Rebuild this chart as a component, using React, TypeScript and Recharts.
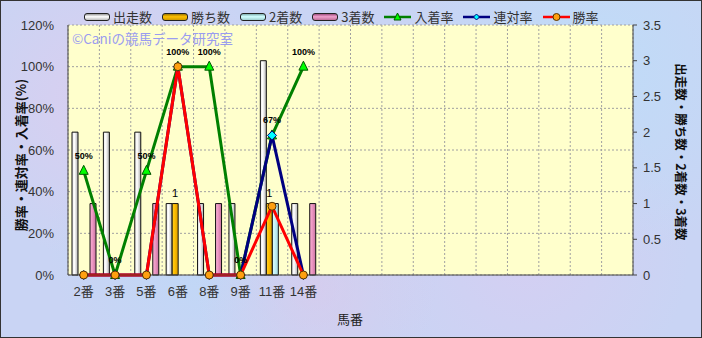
import React from "react";
import {
  ComposedChart,
  Bar,
  Line,
  XAxis,
  YAxis,
  CartesianGrid,
  LabelList,
} from "recharts";

const horses = ["2番", "3番", "5番", "6番", "8番", "9番", "11番", "14番"];
const starts = [2, 2, 2, 1, 1, 1, 3, 1];
const wins = [0, 0, 0, 1, 0, 0, 1, 0];
const seconds = [0, 0, 0, 0, 0, 0, 1, 0];
const thirds = [1, 0, 1, 0, 1, 0, 0, 1];
const placeRate = [50, 0, 50, 100, 100, 0, 67, 100];
const rentaiRate = [0, 0, 0, 100, 0, 0, 67, 0];
const winRate = [0, 0, 0, 100, 0, 0, 33, 0];
const emptySlots = 10;
const leftTicks = [0, 20, 40, 60, 80, 100, 120];
const rightTicks = [0, 0.5, 1, 1.5, 2, 2.5, 3, 3.5];

const data = [
  ...horses.map((horse, i) => ({
    horse,
    starts: starts[i],
    wins: wins[i],
    seconds: seconds[i],
    thirds: thirds[i],
    place: placeRate[i],
    rentai: rentaiRate[i],
    win: winRate[i],
  })),
  ...Array.from({ length: emptySlots }, (_, i) => ({ horse: " ".repeat(i + 1) })),
];

const FONT = '"Liberation Sans", "Noto Sans CJK JP", sans-serif';
const JP = '"Noto Sans CJK JP", "Liberation Sans", sans-serif';

const Triangle = (p: any) => {
  const { cx, cy } = p;
  if (cx == null || cy == null) return null;
  return (
    <path
      key={p.key}
      d={`M${cx},${cy - 5.5} L${cx + 4.5},${cy + 3.5} L${cx - 4.5},${cy + 3.5} Z`}
      fill="#00ff00"
      stroke="#005500"
      strokeWidth={1}
    />
  );
};

const Diamond = (p: any) => {
  const { cx, cy } = p;
  if (cx == null || cy == null) return null;
  return (
    <path
      key={p.key}
      d={`M${cx},${cy - 4.5} L${cx + 4.5},${cy} L${cx},${cy + 4.5} L${cx - 4.5},${cy} Z`}
      fill="#00ffff"
      stroke="#000080"
      strokeWidth={1}
    />
  );
};

const Circle = (p: any) => {
  const { cx, cy } = p;
  if (cx == null || cy == null) return null;
  return <circle key={p.key} cx={cx} cy={cy} r={4} fill="#ffa010" stroke="#553300" strokeWidth={1} />;
};

const WinLabel = (p: any) => {
  const v = Number(p.value);
  if (!v) return null;
  return (
    <text x={p.x + p.width / 2} y={p.y - 7} textAnchor="middle" fontSize={11} fill="#000" fontFamily={FONT}>
      {v}
    </text>
  );
};

const RateLabel = (p: any) => {
  if (p.value == null) return null;
  return (
    <text x={p.x} y={p.y - 12} textAnchor="middle" fontSize={9} fontWeight="bold" fill="#000" fontFamily={FONT}>
      {p.value + "%"}
    </text>
  );
};

const legendItems = [
  { name: "出走数", kind: "bar", fill: "linear-gradient(#9a9a9a, #ffffff 45%, #bdbdbd)" },
  { name: "勝ち数", kind: "bar", fill: "linear-gradient(#a07800, #ffc000 45%, #d09a00)" },
  { name: "2着数", kind: "bar", fill: "linear-gradient(#80b0b0, #d0ffff 45%, #a0d0d0)" },
  { name: "3着数", kind: "bar", fill: "linear-gradient(#a05080, #f0a0cc 45%, #c07099)" },
  { name: "入着率", kind: "line", color: "#008000", marker: "tri" },
  { name: "連対率", kind: "line", color: "#000080", marker: "dia" },
  { name: "勝率", kind: "line", color: "#ff0000", marker: "cir" },
];

function LegendIcon({ item }: { item: any }) {
  if (item.kind === "bar") {
    return (
      <span
        style={{
          display: "inline-block",
          width: 24,
          height: 6,
          border: "1.5px solid #222",
          borderRadius: 3,
          background: item.fill,
          marginRight: 3,
        }}
      />
    );
  }
  return (
    <svg width={27} height={10} style={{ marginRight: 3 }}>
      <line x1={0} y1={5} x2={27} y2={5} stroke={item.color} strokeWidth={2.5} />
      {item.marker === "tri" && <path d="M13.5,1 L17,8 L10,8 Z" fill="#00ff00" stroke="#005500" strokeWidth={1} />}
      {item.marker === "dia" && <path d="M13.5,2 L16.5,5 L13.5,8 L10.5,5 Z" fill="#00ffff" stroke="#000080" strokeWidth={1} />}
      {item.marker === "cir" && <circle cx={13.5} cy={5} r={3.5} fill="#ffa010" stroke="#553300" strokeWidth={1} />}
    </svg>
  );
}

export default function App() {
  return (
    <div
      style={{
        position: "relative",
        width: 702,
        height: 338,
        overflow: "hidden",
        background:
          "radial-gradient(circle at 15% 30%, rgba(235,200,235,0.5), transparent 25%), radial-gradient(circle at 45% 85%, rgba(230,195,230,0.45), transparent 25%), radial-gradient(circle at 85% 20%, rgba(185,225,250,0.6), transparent 30%), radial-gradient(circle at 75% 75%, rgba(225,200,240,0.45), transparent 28%), radial-gradient(circle at 30% 70%, rgba(180,220,250,0.5), transparent 30%), #c9d4f4",
        boxShadow: "inset 0 0 0 1px #333",
        fontFamily: FONT,
      }}
    >
      <style>{"body{margin:0}"}</style>
      <ComposedChart
        width={702}
        height={338}
        data={data}
        margin={{ top: 25, right: 29, left: 20, bottom: 33 }}
        barCategoryGap={4}
        barGap={0}
      >
        <CartesianGrid
          yAxisId="left"
          fill="#ffffcc"
          fillOpacity={1}
          stroke="#a0a0a0"
          strokeDasharray="2 2"
          verticalCoordinatesGenerator={({ offset }: any) =>
            Array.from({ length: data.length + 1 }, (_, i) => offset.left + (i * offset.width) / data.length)
          }
        />
        <XAxis
          dataKey="horse"
          interval={0}
          tickLine={false}
          axisLine={{ stroke: "#444" }}
          height={30}
          tick={{ fontSize: 13, fill: "#333", fontFamily: FONT }}
          tickMargin={6}
        />
        <YAxis
          yAxisId="left"
          domain={[0, 120]}
          ticks={leftTicks}
          tickFormatter={(v: number) => v + "%"}
          width={48}
          tickLine={false}
          axisLine={{ stroke: "#444" }}
          tick={{ fontSize: 13, fill: "#333", fontFamily: FONT }}
          tickMargin={8}
        />
        <YAxis
          yAxisId="right"
          orientation="right"
          domain={[0, 3.5]}
          ticks={rightTicks}
          tickFormatter={(v: number) => String(v)}
          width={40}
          tickSize={4}
          tickLine={{ stroke: "#444" }}
          axisLine={{ stroke: "#444" }}
          tick={{ fontSize: 13, fill: "#333", fontFamily: FONT, textAnchor: "start" }}
          tickMargin={6}
        />
        <defs>
          <linearGradient id="gWhite" x1="0" y1="0" x2="1" y2="0">
            <stop offset="0" stopColor="#e8e8e8" />
            <stop offset="0.4" stopColor="#ffffff" />
            <stop offset="1" stopColor="#b0b0b0" />
          </linearGradient>
          <linearGradient id="gGold" x1="0" y1="0" x2="1" y2="0">
            <stop offset="0" stopColor="#ffd030" />
            <stop offset="0.4" stopColor="#ffc000" />
            <stop offset="1" stopColor="#d89a00" />
          </linearGradient>
          <linearGradient id="gCyan" x1="0" y1="0" x2="1" y2="0">
            <stop offset="0" stopColor="#e0ffff" />
            <stop offset="0.4" stopColor="#c8f4f8" />
            <stop offset="1" stopColor="#a0d8e0" />
          </linearGradient>
          <linearGradient id="gPink" x1="0" y1="0" x2="1" y2="0">
            <stop offset="0" stopColor="#f8b0d4" />
            <stop offset="0.4" stopColor="#ee99c4" />
            <stop offset="1" stopColor="#c870a0" />
          </linearGradient>
        </defs>
        <Bar yAxisId="right" dataKey="starts" name="出走数" fill="url(#gWhite)" stroke="#111" strokeWidth={1} isAnimationActive={false} />
        <Bar yAxisId="right" dataKey="wins" name="勝ち数" fill="url(#gGold)" stroke="#111" strokeWidth={1} isAnimationActive={false}>
          <LabelList dataKey="wins" content={WinLabel} />
        </Bar>
        <Bar yAxisId="right" dataKey="seconds" name="2着数" fill="url(#gCyan)" stroke="#111" strokeWidth={1} isAnimationActive={false} />
        <Bar yAxisId="right" dataKey="thirds" name="3着数" fill="url(#gPink)" stroke="#111" strokeWidth={1} isAnimationActive={false} />
        <Line
          yAxisId="left"
          dataKey="place"
          name="入着率"
          stroke="#008000"
          strokeWidth={3}
          dot={Triangle}
          activeDot={false}
          isAnimationActive={false}
        >
          <LabelList dataKey="place" content={RateLabel} />
        </Line>
        <Line
          yAxisId="left"
          dataKey="rentai"
          name="連対率"
          stroke="#000080"
          strokeWidth={3}
          dot={Diamond}
          activeDot={false}
          isAnimationActive={false}
        />
        <Line
          yAxisId="left"
          dataKey="win"
          name="勝率"
          stroke="#ff0000"
          strokeWidth={3}
          dot={Circle}
          activeDot={false}
          isAnimationActive={false}
        />
      </ComposedChart>

      <div
        style={{
          position: "absolute",
          top: 8,
          left: 84,
          display: "flex",
          alignItems: "center",
          fontFamily: JP,
          fontSize: 13,
          color: "#333",
          whiteSpace: "nowrap",
          lineHeight: "18px",
        }}
      >
        {legendItems.map((it) => (
          <span key={it.name} style={{ display: "inline-flex", alignItems: "center", marginRight: 10 }}>
            <LegendIcon item={it} />
            {it.name}
          </span>
        ))}
      </div>

      <div
        style={{
          position: "absolute",
          top: 31,
          left: 72,
          fontFamily: JP,
          fontSize: 13.5,
          lineHeight: "14px",
          color: "#9a9cf0",
          whiteSpace: "nowrap",
        }}
      >
        ©Caniの競馬データ研究室
      </div>

      <div
        style={{
          position: "absolute",
          left: 20,
          top: 155,
          transform: "translate(-50%, -50%) rotate(-90deg)",
          fontFamily: JP,
          fontSize: 13,
          fontWeight: "bold",
          color: "#111",
          whiteSpace: "nowrap",
        }}
      >
        勝率・連対率・入着率(%)
      </div>

      <div
        style={{
          position: "absolute",
          left: 681,
          top: 152,
          transform: "translate(-50%, -50%) rotate(90deg)",
          fontFamily: JP,
          fontSize: 12.5,
          fontWeight: "bold",
          color: "#111",
          whiteSpace: "nowrap",
        }}
      >
        出走数・勝ち数・2着数・3着数
      </div>

      <div
        style={{
          position: "absolute",
          left: 350,
          top: 318,
          transform: "translate(-50%, -50%)",
          fontFamily: JP,
          fontSize: 13,
          color: "#222",
        }}
      >
        馬番
      </div>
    </div>
  );
}
